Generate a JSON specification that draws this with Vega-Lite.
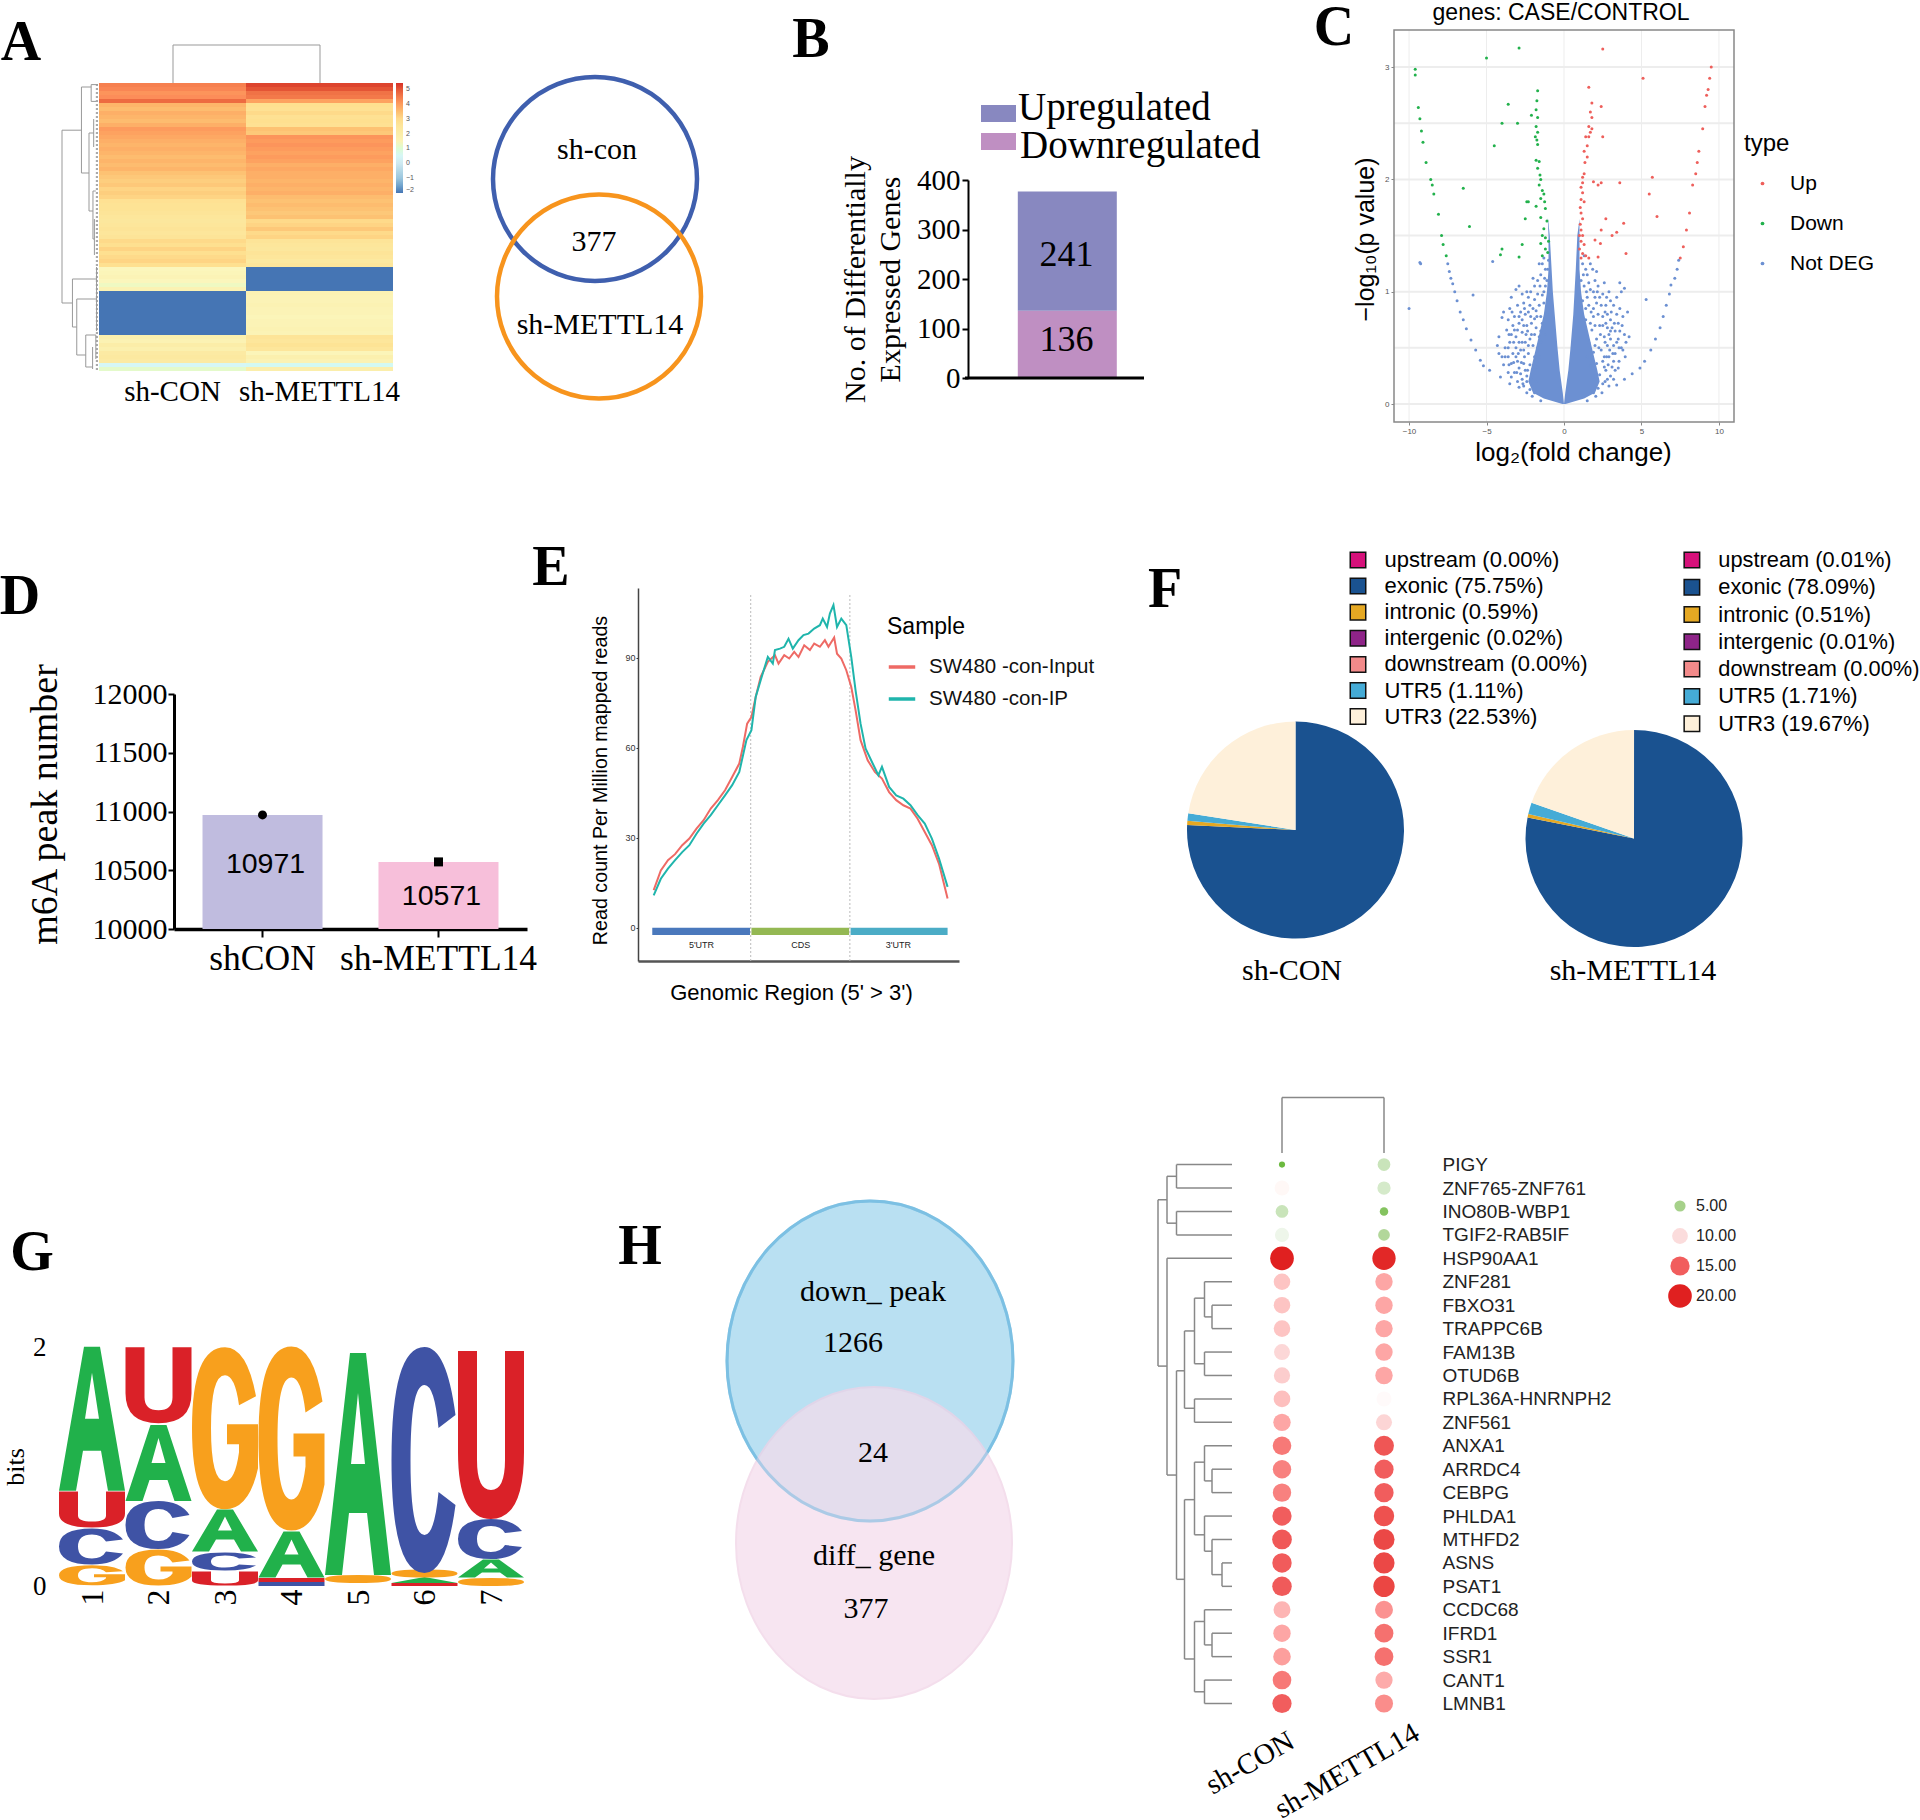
{"$schema":"https://vega.github.io/schema/vega-lite/v6.json","width":1920,"height":1820,"padding":0,"autosize":{"type":"none"},"background":"white",
"config":{"view":{"stroke":null},"axis":{"grid":false,"titleFontWeight":"normal","labelFontWeight":"normal","labelOverlap":false,"labelColor":"#000","titleColor":"#000","labelLimit":400},"text":{"baseline":"middle"}},
"resolve":{"scale":{"x":"independent","y":"independent","color":"independent","fill":"independent","stroke":"independent","size":"independent","shape":"independent","theta":"independent"},"axis":{"x":"independent","y":"independent"},"legend":{"color":"independent"}},
"datasets":{
"notes":[{"g":"L","t":"A","x":10.5,"y":21.5},{"g":"L","t":"B","x":405.5,"y":20},{"g":"L","t":"C","x":667,"y":14},{"g":"L","t":"D","x":10,"y":298.5},{"g":"L","t":"E","x":275.5,"y":284},{"g":"L","t":"F","x":582.5,"y":295},{"g":"L","t":"G","x":16,"y":626.5},{"g":"L","t":"H","x":320,"y":623.5},
{"g":"S","t":"sh-con","x":298.5,"y":75},{"g":"S","t":"377","x":297,"y":121},{"g":"S","t":"sh-METTL14","x":300,"y":162.5},{"g":"S","t":"down_ peak","x":436.5,"y":646},{"g":"S","t":"1266","x":426.5,"y":671.5},{"g":"S","t":"24","x":436.5,"y":726.5},{"g":"S","t":"diff_ gene","x":437,"y":778},{"g":"S","t":"377","x":433,"y":804.5},{"g":"S","t":"sh-CON","x":646,"y":485.5},{"g":"S","t":"sh-METTL14","x":816.5,"y":485.5},
{"g":"R","t":"sh-CON","x":625,"y":881.5},{"g":"R","t":"sh-METTL14","x":673.5,"y":885.5},
{"g":"T","t":"genes: CASE/CONTROL","x":780.5,"y":6.5},
{"g":"K","t":"Upregulated","x":509,"y":54},{"g":"K","t":"Downregulated","x":510,"y":73}],
"two":[{"a":0,"b":0,"c":0,"d":1},{"a":0,"b":1,"c":1,"d":1},{"a":1,"b":1,"c":0,"d":1}],
"heat":[{"s":"sh-CON","g":0,"v":4.4},{"s":"sh-CON","g":1,"v":4.3},{"s":"sh-CON","g":2,"v":4.1},{"s":"sh-CON","g":3,"v":4.2},{"s":"sh-CON","g":4,"v":4.7},{"s":"sh-CON","g":5,"v":3.6},{"s":"sh-CON","g":6,"v":3.5},{"s":"sh-CON","g":7,"v":3.7},{"s":"sh-CON","g":8,"v":3.6},{"s":"sh-CON","g":9,"v":3.5},{"s":"sh-CON","g":10,"v":3.7},{"s":"sh-CON","g":11,"v":4.0},{"s":"sh-CON","g":12,"v":3.9},{"s":"sh-CON","g":13,"v":3.8},{"s":"sh-CON","g":14,"v":3.7},{"s":"sh-CON","g":15,"v":3.6},{"s":"sh-CON","g":16,"v":3.7},{"s":"sh-CON","g":17,"v":3.6},{"s":"sh-CON","g":18,"v":3.5},{"s":"sh-CON","g":19,"v":3.6},{"s":"sh-CON","g":20,"v":3.5},{"s":"sh-CON","g":21,"v":3.6},{"s":"sh-CON","g":22,"v":3.4},{"s":"sh-CON","g":23,"v":3.3},{"s":"sh-CON","g":24,"v":3.2},{"s":"sh-CON","g":25,"v":3.3},{"s":"sh-CON","g":26,"v":3.1},{"s":"sh-CON","g":27,"v":3.2},{"s":"sh-CON","g":28,"v":3.1},{"s":"sh-CON","g":29,"v":2.8},{"s":"sh-CON","g":30,"v":2.7},{"s":"sh-CON","g":31,"v":2.7},{"s":"sh-CON","g":32,"v":2.6},{"s":"sh-CON","g":33,"v":2.5},{"s":"sh-CON","g":34,"v":2.4},{"s":"sh-CON","g":35,"v":2.5},{"s":"sh-CON","g":36,"v":2.6},{"s":"sh-CON","g":37,"v":2.5},{"s":"sh-CON","g":38,"v":2.6},{"s":"sh-CON","g":39,"v":3.0},{"s":"sh-CON","g":40,"v":2.9},{"s":"sh-CON","g":41,"v":3.1},{"s":"sh-CON","g":42,"v":2.9},{"s":"sh-CON","g":43,"v":3.0},{"s":"sh-CON","g":44,"v":3.1},{"s":"sh-CON","g":45,"v":2.9},{"s":"sh-CON","g":46,"v":1.3},{"s":"sh-CON","g":47,"v":1.4},{"s":"sh-CON","g":48,"v":1.5},{"s":"sh-CON","g":49,"v":1.3},{"s":"sh-CON","g":50,"v":1.2},{"s":"sh-CON","g":51,"v":1.6},{"s":"sh-CON","g":52,"v":-2},{"s":"sh-CON","g":53,"v":-2},{"s":"sh-CON","g":54,"v":-2},{"s":"sh-CON","g":55,"v":-2},{"s":"sh-CON","g":56,"v":-2},{"s":"sh-CON","g":57,"v":-2},{"s":"sh-CON","g":58,"v":-2},{"s":"sh-CON","g":59,"v":-2},{"s":"sh-CON","g":60,"v":-2},{"s":"sh-CON","g":61,"v":-2},{"s":"sh-CON","g":62,"v":-2},{"s":"sh-CON","g":63,"v":1.8},{"s":"sh-CON","g":64,"v":1.6},{"s":"sh-CON","g":65,"v":2.0},{"s":"sh-CON","g":66,"v":1.8},{"s":"sh-CON","g":67,"v":2.2},{"s":"sh-CON","g":68,"v":2.3},{"s":"sh-CON","g":69,"v":2.2},{"s":"sh-CON","g":70,"v":0.5},{"s":"sh-CON","g":71,"v":1.1},
{"s":"sh-METTL14","g":0,"v":5.2},{"s":"sh-METTL14","g":1,"v":5.0},{"s":"sh-METTL14","g":2,"v":4.6},{"s":"sh-METTL14","g":3,"v":4.5},{"s":"sh-METTL14","g":4,"v":3.9},{"s":"sh-METTL14","g":5,"v":2.9},{"s":"sh-METTL14","g":6,"v":2.8},{"s":"sh-METTL14","g":7,"v":3.0},{"s":"sh-METTL14","g":8,"v":2.8},{"s":"sh-METTL14","g":9,"v":2.9},{"s":"sh-METTL14","g":10,"v":2.8},{"s":"sh-METTL14","g":11,"v":3.4},{"s":"sh-METTL14","g":12,"v":3.3},{"s":"sh-METTL14","g":13,"v":4.1},{"s":"sh-METTL14","g":14,"v":4.0},{"s":"sh-METTL14","g":15,"v":4.1},{"s":"sh-METTL14","g":16,"v":4.0},{"s":"sh-METTL14","g":17,"v":3.9},{"s":"sh-METTL14","g":18,"v":4.0},{"s":"sh-METTL14","g":19,"v":3.9},{"s":"sh-METTL14","g":20,"v":3.7},{"s":"sh-METTL14","g":21,"v":3.8},{"s":"sh-METTL14","g":22,"v":3.7},{"s":"sh-METTL14","g":23,"v":3.7},{"s":"sh-METTL14","g":24,"v":3.6},{"s":"sh-METTL14","g":25,"v":3.7},{"s":"sh-METTL14","g":26,"v":3.6},{"s":"sh-METTL14","g":27,"v":3.7},{"s":"sh-METTL14","g":28,"v":3.5},{"s":"sh-METTL14","g":29,"v":3.4},{"s":"sh-METTL14","g":30,"v":3.5},{"s":"sh-METTL14","g":31,"v":3.4},{"s":"sh-METTL14","g":32,"v":3.3},{"s":"sh-METTL14","g":33,"v":3.4},{"s":"sh-METTL14","g":34,"v":3.0},{"s":"sh-METTL14","g":35,"v":3.1},{"s":"sh-METTL14","g":36,"v":3.3},{"s":"sh-METTL14","g":37,"v":3.0},{"s":"sh-METTL14","g":38,"v":3.1},{"s":"sh-METTL14","g":39,"v":2.6},{"s":"sh-METTL14","g":40,"v":2.5},{"s":"sh-METTL14","g":41,"v":2.4},{"s":"sh-METTL14","g":42,"v":2.6},{"s":"sh-METTL14","g":43,"v":2.5},{"s":"sh-METTL14","g":44,"v":2.3},{"s":"sh-METTL14","g":45,"v":2.5},{"s":"sh-METTL14","g":46,"v":-2},{"s":"sh-METTL14","g":47,"v":-2},{"s":"sh-METTL14","g":48,"v":-2},{"s":"sh-METTL14","g":49,"v":-2},{"s":"sh-METTL14","g":50,"v":-2},{"s":"sh-METTL14","g":51,"v":-2},{"s":"sh-METTL14","g":52,"v":1.6},{"s":"sh-METTL14","g":53,"v":1.5},{"s":"sh-METTL14","g":54,"v":1.5},{"s":"sh-METTL14","g":55,"v":1.6},{"s":"sh-METTL14","g":56,"v":1.5},{"s":"sh-METTL14","g":57,"v":1.5},{"s":"sh-METTL14","g":58,"v":1.4},{"s":"sh-METTL14","g":59,"v":1.5},{"s":"sh-METTL14","g":60,"v":1.5},{"s":"sh-METTL14","g":61,"v":1.6},{"s":"sh-METTL14","g":62,"v":1.5},{"s":"sh-METTL14","g":63,"v":2.6},{"s":"sh-METTL14","g":64,"v":2.5},{"s":"sh-METTL14","g":65,"v":2.7},{"s":"sh-METTL14","g":66,"v":2.5},{"s":"sh-METTL14","g":67,"v":1.4},{"s":"sh-METTL14","g":68,"v":1.8},{"s":"sh-METTL14","g":69,"v":1.6},{"s":"sh-METTL14","g":70,"v":0.6},{"s":"sh-METTL14","g":71,"v":1.9}],
"treeA":[{"a":100,"b":100,"c":11.8,"d":55},{"a":100,"b":46,"c":11.8,"d":11.8},{"a":46,"b":46,"c":1,"d":22.5},{"a":46,"b":19,"c":1,"d":1},{"a":19,"b":19,"c":0.4,"d":4.6},{"a":19,"b":0,"c":0.4,"d":0.4},{"a":19,"b":5,"c":4.6,"d":4.6},{"a":46,"b":25,"c":22.5,"d":22.5},{"a":25,"b":25,"c":12.5,"d":32},{"a":25,"b":12,"c":12.5,"d":12.5},{"a":12,"b":12,"c":9,"d":16},{"a":25,"b":14,"c":32,"d":32},{"a":14,"b":14,"c":27,"d":39},{"a":14,"b":6,"c":27,"d":27},{"a":14,"b":10,"c":39,"d":39},{"a":10,"b":10,"c":34,"d":43},{"a":100,"b":71,"c":55,"d":55},{"a":71,"b":71,"c":49,"d":61},{"a":71,"b":4,"c":49,"d":49},{"a":4,"b":4,"c":46,"d":52},{"a":71,"b":59,"c":61,"d":61},{"a":59,"b":59,"c":54,"d":68},{"a":59,"b":4,"c":54,"d":54},{"a":4,"b":4,"c":52,"d":62},{"a":59,"b":34,"c":68,"d":68},{"a":34,"b":34,"c":63,"d":71},{"a":34,"b":6,"c":63,"d":63},{"a":34,"b":15,"c":71,"d":71},{"a":15,"b":15,"c":66,"d":71.5},{"a":6,"b":6,"c":63,"d":69}],
"treeD":[{"a":148,"b":148,"c":1.5,"d":8.6},{"a":148,"b":130,"c":1.5,"d":1.5},{"a":148,"b":130,"c":8.6,"d":8.6},{"a":130,"b":130,"c":0.5,"d":2.5},{"a":130,"b":111,"c":0.5,"d":0.5},{"a":130,"b":111,"c":2.5,"d":2.5},{"a":111,"b":111,"c":0,"d":1},{"a":111,"b":0,"c":0,"d":0},{"a":111,"b":0,"c":1,"d":1},{"a":111,"b":111,"c":2,"d":3},{"a":111,"b":0,"c":2,"d":2},{"a":111,"b":0,"c":3,"d":3},{"a":130,"b":130,"c":4,"d":13.25},{"a":130,"b":0,"c":4,"d":4},{"a":130,"b":111,"c":13.25,"d":13.25},{"a":111,"b":111,"c":8.8,"d":17.7},{"a":111,"b":95,"c":8.8,"d":8.8},{"a":111,"b":95,"c":17.7,"d":17.7},{"a":95,"b":95,"c":7.1,"d":10.4},{"a":95,"b":75,"c":7.1,"d":7.1},{"a":95,"b":75,"c":10.4,"d":10.4},{"a":75,"b":75,"c":5.7,"d":8.5},{"a":75,"b":55,"c":5.7,"d":5.7},{"a":75,"b":55,"c":8.5,"d":8.5},{"a":55,"b":55,"c":5,"d":6.5},{"a":55,"b":0,"c":5,"d":5},{"a":55,"b":40,"c":6.5,"d":6.5},{"a":40,"b":40,"c":6,"d":7},{"a":40,"b":0,"c":6,"d":6},{"a":40,"b":0,"c":7,"d":7},{"a":55,"b":55,"c":8,"d":9},{"a":55,"b":0,"c":8,"d":8},{"a":55,"b":0,"c":9,"d":9},{"a":75,"b":75,"c":10,"d":11},{"a":75,"b":0,"c":10,"d":10},{"a":75,"b":0,"c":11,"d":11},{"a":95,"b":95,"c":14.3,"d":21.1},{"a":95,"b":75,"c":14.3,"d":14.3},{"a":95,"b":75,"c":21.1,"d":21.1},{"a":75,"b":75,"c":12.7,"d":15.8},{"a":75,"b":55,"c":12.7,"d":12.7},{"a":75,"b":55,"c":15.8,"d":15.8},{"a":55,"b":55,"c":12,"d":13.5},{"a":55,"b":0,"c":12,"d":12},{"a":55,"b":40,"c":13.5,"d":13.5},{"a":40,"b":40,"c":13,"d":14},{"a":40,"b":0,"c":13,"d":13},{"a":40,"b":0,"c":14,"d":14},{"a":55,"b":55,"c":15,"d":16.5},{"a":55,"b":0,"c":15,"d":15},{"a":55,"b":40,"c":16.5,"d":16.5},{"a":40,"b":40,"c":16,"d":17.5},{"a":40,"b":0,"c":16,"d":16},{"a":40,"b":20,"c":17.5,"d":17.5},{"a":20,"b":20,"c":17,"d":18},{"a":20,"b":0,"c":17,"d":17},{"a":20,"b":0,"c":18,"d":18},{"a":75,"b":75,"c":19.5,"d":22.5},{"a":75,"b":55,"c":19.5,"d":19.5},{"a":75,"b":55,"c":22.5,"d":22.5},{"a":55,"b":55,"c":19,"d":20.5},{"a":55,"b":0,"c":19,"d":19},{"a":55,"b":40,"c":20.5,"d":20.5},{"a":40,"b":40,"c":20,"d":21},{"a":40,"b":0,"c":20,"d":20},{"a":40,"b":0,"c":21,"d":21},{"a":55,"b":55,"c":22,"d":23},{"a":55,"b":0,"c":22,"d":22},{"a":55,"b":0,"c":23,"d":23}],
"dens":[{"s":"L","y":0.0,"a":0,"b":-0.1},{"s":"L","y":0.05,"a":-0.04,"b":-1.3},{"s":"L","y":0.1,"a":-0.08,"b":-2.0},{"s":"L","y":0.2,"a":-0.18,"b":-2.3},{"s":"L","y":0.3,"a":-0.28,"b":-2.15},{"s":"L","y":0.5,"a":-0.42,"b":-1.8},{"s":"L","y":0.8,"a":-0.6,"b":-1.3},{"s":"L","y":1.0,"a":-0.72,"b":-1.1},{"s":"L","y":1.2,"a":-0.8,"b":-1.0},{"s":"L","y":1.5,"a":-0.92,"b":-1.0},{"s":"L","y":1.65,"a":-1.03,"b":-1.05},
{"s":"R","y":0.0,"a":0,"b":0.1},{"s":"R","y":0.05,"a":0.04,"b":1.3},{"s":"R","y":0.1,"a":0.08,"b":2.0},{"s":"R","y":0.2,"a":0.18,"b":2.3},{"s":"R","y":0.3,"a":0.28,"b":2.15},{"s":"R","y":0.5,"a":0.42,"b":1.8},{"s":"R","y":0.8,"a":0.6,"b":1.3},{"s":"R","y":1.0,"a":0.68,"b":1.1},{"s":"R","y":1.2,"a":0.76,"b":1.0},{"s":"R","y":1.5,"a":0.86,"b":1.0},{"s":"R","y":1.65,"a":1.0,"b":1.0}],
"volcano":[{"x":-1.5,"y":1.15,"t":"Not DEG"},{"x":-1.2,"y":1.2,"t":"Not DEG"},{"x":-1.9,"y":1.05,"t":"Not DEG"},{"x":-2.9,"y":1.05,"t":"Not DEG"},{"x":-3.1,"y":1.02,"t":"Not DEG"},{"x":-2.7,"y":0.98,"t":"Not DEG"},{"x":-1.3,"y":1.0,"t":"Not DEG"},{"x":-1.7,"y":0.98,"t":"Not DEG"},{"x":-1.1,"y":1.1,"t":"Not DEG"},{"x":-2.3,"y":0.95,"t":"Not DEG"},{"x":-2.6,"y":0.9,"t":"Not DEG"},{"x":-3.0,"y":0.88,"t":"Not DEG"},{"x":-3.5,"y":0.85,"t":"Not DEG"},{"x":-3.2,"y":0.78,"t":"Not DEG"},{"x":-2.5,"y":0.8,"t":"Not DEG"},{"x":-2,"y":0.85,"t":"Not DEG"},{"x":-1.6,"y":0.88,"t":"Not DEG"},{"x":-1.3,"y":0.9,"t":"Not DEG"},{"x":-1.9,"y":0.76,"t":"Not DEG"},{"x":-3.9,"y":0.82,"t":"Not DEG"},{"x":-4,"y":0.77,"t":"Not DEG"},{"x":-3.3,"y":0.7,"t":"Not DEG"},{"x":-2.9,"y":0.72,"t":"Not DEG"},{"x":-2.4,"y":0.7,"t":"Not DEG"},{"x":-1.8,"y":0.68,"t":"Not DEG"},{"x":-1.4,"y":0.72,"t":"Not DEG"},{"x":-1.1,"y":0.8,"t":"Not DEG"},{"x":-2.7,"y":0.64,"t":"Not DEG"},{"x":-3.1,"y":0.6,"t":"Not DEG"},{"x":-2.1,"y":0.62,"t":"Not DEG"},{"x":-1.6,"y":0.6,"t":"Not DEG"},{"x":-3.5,"y":0.55,"t":"Not DEG"},{"x":-2.5,"y":0.55,"t":"Not DEG"},{"x":-2,"y":0.52,"t":"Not DEG"},{"x":-1.5,"y":0.55,"t":"Not DEG"},{"x":-3.8,"y":0.5,"t":"Not DEG"},{"x":-3.3,"y":0.45,"t":"Not DEG"},{"x":-2.8,"y":0.48,"t":"Not DEG"},{"x":-2.3,"y":0.45,"t":"Not DEG"},{"x":-1.9,"y":0.42,"t":"Not DEG"},{"x":-1.6,"y":0.42,"t":"Not DEG"},{"x":-3.8,"y":0.42,"t":"Not DEG"},{"x":-3.4,"y":0.36,"t":"Not DEG"},{"x":-3,"y":0.38,"t":"Not DEG"},{"x":-2.6,"y":0.36,"t":"Not DEG"},{"x":-2.2,"y":0.35,"t":"Not DEG"},{"x":-1.8,"y":0.33,"t":"Not DEG"},{"x":-3.2,"y":0.28,"t":"Not DEG"},{"x":-2.8,"y":0.27,"t":"Not DEG"},{"x":-2.4,"y":0.25,"t":"Not DEG"},{"x":-2.1,"y":0.22,"t":"Not DEG"},{"x":-1.8,"y":0.2,"t":"Not DEG"},{"x":-2.6,"y":0.16,"t":"Not DEG"},{"x":-2.2,"y":0.13,"t":"Not DEG"},{"x":-1.9,"y":0.1,"t":"Not DEG"},{"x":-2.4,"y":0.2,"t":"Not DEG"},{"x":-1.5,"y":0.65,"t":"Not DEG"},{"x":-1.7,"y":0.5,"t":"Not DEG"},{"x":-1.2,"y":0.62,"t":"Not DEG"},{"x":-2.2,"y":0.58,"t":"Not DEG"},{"x":-2.9,"y":0.55,"t":"Not DEG"},{"x":-2.6,"y":0.48,"t":"Not DEG"},{"x":-3.1,"y":0.5,"t":"Not DEG"},{"x":-2.1,"y":0.72,"t":"Not DEG"},{"x":-2.7,"y":0.75,"t":"Not DEG"},{"x":-1.5,"y":0.78,"t":"Not DEG"},{"x":-1.8,"y":0.83,"t":"Not DEG"},{"x":-1.2,"y":1.05,"t":"Not DEG"},{"x":-1.05,"y":1.2,"t":"Not DEG"},{"x":-1,"y":1.28,"t":"Not DEG"},{"x":-5.87,"y":0.97,"t":"Not DEG"},{"x":-10,"y":0.85,"t":"Not DEG"},{"x":-9.3,"y":1.26,"t":"Not DEG"},{"x":-9.25,"y":1.25,"t":"Not DEG"},{"x":-4.6,"y":1.27,"t":"Not DEG"},{"x":-2.4,"y":1.0,"t":"Not DEG"},{"x":-2.0,"y":1.12,"t":"Not DEG"},{"x":-3.4,"y":0.95,"t":"Not DEG"},{"x":-3.7,"y":0.66,"t":"Not DEG"},{"x":-4.2,"y":0.6,"t":"Not DEG"},{"x":-4.3,"y":0.52,"t":"Not DEG"},{"x":-2.3,"y":0.82,"t":"Not DEG"},{"x":-2.8,"y":0.82,"t":"Not DEG"},{"x":-3.6,"y":0.75,"t":"Not DEG"},{"x":-3.0,"y":0.66,"t":"Not DEG"},{"x":-2.45,"y":0.62,"t":"Not DEG"},{"x":-3.4,"y":0.62,"t":"Not DEG"},{"x":-2.95,"y":0.45,"t":"Not DEG"},{"x":-3.6,"y":0.28,"t":"Not DEG"},{"x":-3.0,"y":0.2,"t":"Not DEG"},{"x":-2.7,"y":0.22,"t":"Not DEG"},{"x":-3.9,"y":0.35,"t":"Not DEG"},{"x":-2.2,"y":0.88,"t":"Not DEG"},{"x":-1.7,"y":1.1,"t":"Not DEG"},{"x":-1.4,"y":1.25,"t":"Not DEG"},{"x":-4.2,"y":0.45,"t":"Not DEG"},{"x":-3.6,"y":0.42,"t":"Not DEG"},{"x":-2.35,"y":0.3,"t":"Not DEG"},{"x":-2.9,"y":0.32,"t":"Not DEG"},{"x":-1.3,"y":1.3,"t":"Not DEG"},{"x":-1.6,"y":1.25,"t":"Not DEG"},{"x":-1.25,"y":1.12,"t":"Not DEG"},{"x":-1.55,"y":1.05,"t":"Not DEG"},{"x":-1.4,"y":0.97,"t":"Not DEG"},{"x":-1.9,"y":0.93,"t":"Not DEG"},{"x":-2.15,"y":1.0,"t":"Not DEG"},{"x":-2.55,"y":0.85,"t":"Not DEG"},{"x":-1.75,"y":0.78,"t":"Not DEG"},{"x":-2.15,"y":0.78,"t":"Not DEG"},{"x":-2.9,"y":0.78,"t":"Not DEG"},{"x":-3.35,"y":0.82,"t":"Not DEG"},{"x":-1.9,"y":0.62,"t":"Not DEG"},{"x":-2.35,"y":0.65,"t":"Not DEG"},{"x":-2.6,"y":0.7,"t":"Not DEG"},{"x":-3.2,"y":0.66,"t":"Not DEG"},{"x":-3.55,"y":0.62,"t":"Not DEG"},{"x":-2.3,"y":0.52,"t":"Not DEG"},{"x":-2.7,"y":0.55,"t":"Not DEG"},{"x":-3.25,"y":0.55,"t":"Not DEG"},{"x":-3.6,"y":0.5,"t":"Not DEG"},{"x":-4.0,"y":0.42,"t":"Not DEG"},{"x":-2.55,"y":0.42,"t":"Not DEG"},{"x":-3.1,"y":0.42,"t":"Not DEG"},{"x":-3.55,"y":0.35,"t":"Not DEG"},{"x":-2.75,"y":0.37,"t":"Not DEG"},{"x":-3.25,"y":0.37,"t":"Not DEG"},{"x":-2.5,"y":0.3,"t":"Not DEG"},{"x":-3.05,"y":0.28,"t":"Not DEG"},{"x":-3.4,"y":0.24,"t":"Not DEG"},{"x":-2.65,"y":0.18,"t":"Not DEG"},{"x":-2.9,"y":0.15,"t":"Not DEG"},{"x":-2.4,"y":0.1,"t":"Not DEG"},{"x":-2.05,"y":0.07,"t":"Not DEG"},{"x":-1.5,"y":0.03,"t":"Not DEG"},
{"x":-7.5,"y":1.25,"t":"Not DEG"},{"x":-7.4,"y":1.18,"t":"Not DEG"},{"x":-7.3,"y":1.12,"t":"Not DEG"},{"x":-7.18,"y":1.07,"t":"Not DEG"},{"x":-7.05,"y":1.0,"t":"Not DEG"},{"x":-6.9,"y":0.92,"t":"Not DEG"},{"x":-6.7,"y":0.82,"t":"Not DEG"},{"x":-6.5,"y":0.75,"t":"Not DEG"},{"x":-6.3,"y":0.67,"t":"Not DEG"},{"x":-6.0,"y":0.57,"t":"Not DEG"},{"x":-5.7,"y":0.48,"t":"Not DEG"},{"x":-5.4,"y":0.39,"t":"Not DEG"},{"x":-5.2,"y":0.34,"t":"Not DEG"},{"x":-4.8,"y":0.3,"t":"Not DEG"},{"x":-4.1,"y":0.24,"t":"Not DEG"},{"x":-3.5,"y":0.18,"t":"Not DEG"},{"x":7.4,"y":1.28,"t":"Not DEG"},{"x":7.3,"y":1.2,"t":"Not DEG"},{"x":7.15,"y":1.12,"t":"Not DEG"},{"x":6.9,"y":1.06,"t":"Not DEG"},{"x":6.8,"y":0.98,"t":"Not DEG"},{"x":6.6,"y":0.88,"t":"Not DEG"},{"x":6.4,"y":0.78,"t":"Not DEG"},{"x":6.2,"y":0.68,"t":"Not DEG"},{"x":5.9,"y":0.58,"t":"Not DEG"},{"x":5.6,"y":0.48,"t":"Not DEG"},{"x":5.2,"y":0.38,"t":"Not DEG"},{"x":4.9,"y":0.32,"t":"Not DEG"},{"x":4.4,"y":0.27,"t":"Not DEG"},{"x":3.9,"y":0.22,"t":"Not DEG"},{"x":3.4,"y":0.17,"t":"Not DEG"},
{"x":1.2,"y":1.25,"t":"Not DEG"},{"x":1.5,"y":1.15,"t":"Not DEG"},{"x":2.1,"y":1.18,"t":"Not DEG"},{"x":1.1,"y":1.1,"t":"Not DEG"},{"x":1.3,"y":1.05,"t":"Not DEG"},{"x":1.7,"y":1.02,"t":"Not DEG"},{"x":2.2,"y":1.05,"t":"Not DEG"},{"x":2.5,"y":0.98,"t":"Not DEG"},{"x":3,"y":0.92,"t":"Not DEG"},{"x":3.6,"y":1.08,"t":"Not DEG"},{"x":3.9,"y":1.03,"t":"Not DEG"},{"x":3.7,"y":1,"t":"Not DEG"},{"x":3.2,"y":0.88,"t":"Not DEG"},{"x":4.1,"y":0.82,"t":"Not DEG"},{"x":3.8,"y":0.78,"t":"Not DEG"},{"x":2.7,"y":0.88,"t":"Not DEG"},{"x":2.1,"y":0.9,"t":"Not DEG"},{"x":1.6,"y":0.88,"t":"Not DEG"},{"x":1.2,"y":0.92,"t":"Not DEG"},{"x":1.9,"y":0.78,"t":"Not DEG"},{"x":1.4,"y":0.75,"t":"Not DEG"},{"x":2.5,"y":0.78,"t":"Not DEG"},{"x":3,"y":0.75,"t":"Not DEG"},{"x":3.5,"y":0.72,"t":"Not DEG"},{"x":3.3,"y":0.65,"t":"Not DEG"},{"x":2.8,"y":0.68,"t":"Not DEG"},{"x":2.3,"y":0.7,"t":"Not DEG"},{"x":1.8,"y":0.66,"t":"Not DEG"},{"x":1.3,"y":0.65,"t":"Not DEG"},{"x":2.6,"y":0.6,"t":"Not DEG"},{"x":2.1,"y":0.58,"t":"Not DEG"},{"x":1.6,"y":0.55,"t":"Not DEG"},{"x":3,"y":0.58,"t":"Not DEG"},{"x":3.4,"y":0.55,"t":"Not DEG"},{"x":2.8,"y":0.52,"t":"Not DEG"},{"x":2.4,"y":0.48,"t":"Not DEG"},{"x":1.9,"y":0.46,"t":"Not DEG"},{"x":1.5,"y":0.42,"t":"Not DEG"},{"x":3.8,"y":0.48,"t":"Not DEG"},{"x":3.3,"y":0.45,"t":"Not DEG"},{"x":2.9,"y":0.42,"t":"Not DEG"},{"x":2.5,"y":0.38,"t":"Not DEG"},{"x":2.1,"y":0.36,"t":"Not DEG"},{"x":1.7,"y":0.34,"t":"Not DEG"},{"x":3.1,"y":0.33,"t":"Not DEG"},{"x":2.7,"y":0.3,"t":"Not DEG"},{"x":2.3,"y":0.26,"t":"Not DEG"},{"x":1.9,"y":0.24,"t":"Not DEG"},{"x":2.5,"y":0.18,"t":"Not DEG"},{"x":2.2,"y":0.14,"t":"Not DEG"},{"x":1.9,"y":0.1,"t":"Not DEG"},{"x":2.8,"y":0.22,"t":"Not DEG"},{"x":2,"y":0.52,"t":"Not DEG"},{"x":1.4,"y":0.85,"t":"Not DEG"},{"x":2.3,"y":0.95,"t":"Not DEG"},{"x":1.9,"y":1.0,"t":"Not DEG"},{"x":1.5,"y":0.95,"t":"Not DEG"},{"x":2.5,"y":0.7,"t":"Not DEG"},{"x":3.6,"y":0.65,"t":"Not DEG"},{"x":2.2,"y":0.8,"t":"Not DEG"},{"x":1.7,"y":0.72,"t":"Not DEG"},{"x":5.3,"y":0.93,"t":"Not DEG"},{"x":2.0,"y":1.1,"t":"Not DEG"},{"x":2.6,"y":1.08,"t":"Not DEG"},{"x":2.9,"y":1.0,"t":"Not DEG"},{"x":3.4,"y":0.95,"t":"Not DEG"},{"x":3.4,"y":0.8,"t":"Not DEG"},{"x":2.8,"y":0.8,"t":"Not DEG"},{"x":2.4,"y":0.88,"t":"Not DEG"},{"x":4.2,"y":0.6,"t":"Not DEG"},{"x":4.0,"y":0.55,"t":"Not DEG"},{"x":3.9,"y":0.62,"t":"Not DEG"},{"x":3.1,"y":0.68,"t":"Not DEG"},{"x":2.7,"y":0.72,"t":"Not DEG"},{"x":2.9,"y":0.62,"t":"Not DEG"},{"x":3.7,"y":0.5,"t":"Not DEG"},{"x":3.55,"y":0.38,"t":"Not DEG"},{"x":3.3,"y":0.3,"t":"Not DEG"},{"x":3.0,"y":0.25,"t":"Not DEG"},{"x":2.6,"y":0.42,"t":"Not DEG"},{"x":3.5,"y":0.58,"t":"Not DEG"},{"x":1.9,"y":0.85,"t":"Not DEG"},{"x":1.4,"y":1.2,"t":"Not DEG"},{"x":1.7,"y":1.25,"t":"Not DEG"},{"x":2.95,"y":0.48,"t":"Not DEG"},{"x":3.2,"y":0.38,"t":"Not DEG"},{"x":1.3,"y":1.32,"t":"Not DEG"},{"x":1.85,"y":1.2,"t":"Not DEG"},{"x":1.25,"y":1.15,"t":"Not DEG"},{"x":1.6,"y":1.08,"t":"Not DEG"},{"x":1.45,"y":1.0,"t":"Not DEG"},{"x":2.0,"y":0.95,"t":"Not DEG"},{"x":2.75,"y":0.95,"t":"Not DEG"},{"x":2.15,"y":1.0,"t":"Not DEG"},{"x":1.75,"y":0.82,"t":"Not DEG"},{"x":2.65,"y":0.82,"t":"Not DEG"},{"x":3.05,"y":0.82,"t":"Not DEG"},{"x":3.6,"y":0.85,"t":"Not DEG"},{"x":2.0,"y":0.7,"t":"Not DEG"},{"x":2.35,"y":0.62,"t":"Not DEG"},{"x":3.0,"y":0.65,"t":"Not DEG"},{"x":3.25,"y":0.72,"t":"Not DEG"},{"x":3.75,"y":0.7,"t":"Not DEG"},{"x":2.25,"y":0.5,"t":"Not DEG"},{"x":2.65,"y":0.55,"t":"Not DEG"},{"x":3.2,"y":0.52,"t":"Not DEG"},{"x":3.55,"y":0.5,"t":"Not DEG"},{"x":3.95,"y":0.42,"t":"Not DEG"},{"x":2.75,"y":0.42,"t":"Not DEG"},{"x":3.15,"y":0.45,"t":"Not DEG"},{"x":3.5,"y":0.32,"t":"Not DEG"},{"x":2.85,"y":0.35,"t":"Not DEG"},{"x":2.6,"y":0.33,"t":"Not DEG"},{"x":3.2,"y":0.22,"t":"Not DEG"},{"x":2.65,"y":0.2,"t":"Not DEG"},{"x":2.9,"y":0.16,"t":"Not DEG"},{"x":2.45,"y":0.1,"t":"Not DEG"},{"x":2.05,"y":0.07,"t":"Not DEG"},{"x":1.5,"y":0.03,"t":"Not DEG"},
{"x":9.5,"y":3.0,"t":"Up"},{"x":9.4,"y":2.9,"t":"Up"},{"x":9.3,"y":2.8,"t":"Up"},{"x":9.2,"y":2.75,"t":"Up"},{"x":9.1,"y":2.65,"t":"Up"},{"x":8.95,"y":2.45,"t":"Up"},{"x":8.7,"y":2.25,"t":"Up"},{"x":8.6,"y":2.15,"t":"Up"},{"x":8.5,"y":2.05,"t":"Up"},{"x":8.3,"y":1.95,"t":"Up"},{"x":8.1,"y":1.7,"t":"Up"},{"x":7.9,"y":1.55,"t":"Up"},{"x":7.7,"y":1.4,"t":"Up"},{"x":7.5,"y":1.3,"t":"Up"},{"x":2.5,"y":3.16,"t":"Up"},{"x":5.1,"y":2.9,"t":"Up"},{"x":1.6,"y":2.82,"t":"Up"},{"x":1.8,"y":2.68,"t":"Up"},{"x":1.7,"y":2.6,"t":"Up"},{"x":2.4,"y":2.65,"t":"Up"},{"x":2.5,"y":2.38,"t":"Up"},{"x":1.8,"y":2.55,"t":"Up"},{"x":1.8,"y":2.45,"t":"Up"},{"x":1.7,"y":2.42,"t":"Up"},{"x":1.6,"y":2.47,"t":"Up"},{"x":1.6,"y":2.38,"t":"Up"},{"x":1.4,"y":2.38,"t":"Up"},{"x":1.5,"y":2.3,"t":"Up"},{"x":1.3,"y":2.25,"t":"Up"},{"x":1.5,"y":2.2,"t":"Up"},{"x":1.35,"y":2.15,"t":"Up"},{"x":1.3,"y":2.05,"t":"Up"},{"x":1.2,"y":2.02,"t":"Up"},{"x":1.2,"y":1.97,"t":"Up"},{"x":1.1,"y":1.93,"t":"Up"},{"x":1.2,"y":1.88,"t":"Up"},{"x":1.1,"y":1.82,"t":"Up"},{"x":1.3,"y":1.8,"t":"Up"},{"x":1.05,"y":1.75,"t":"Up"},{"x":1.1,"y":1.7,"t":"Up"},{"x":1.2,"y":1.65,"t":"Up"},{"x":1.05,"y":1.6,"t":"Up"},{"x":1.1,"y":1.55,"t":"Up"},{"x":1.0,"y":1.5,"t":"Up"},{"x":1.2,"y":1.5,"t":"Up"},{"x":1.1,"y":1.45,"t":"Up"},{"x":1.3,"y":1.42,"t":"Up"},{"x":1.0,"y":1.38,"t":"Up"},{"x":1.2,"y":1.34,"t":"Up"},{"x":1.4,"y":1.32,"t":"Up"},{"x":1.1,"y":1.3,"t":"Up"},{"x":1.9,"y":1.98,"t":"Up"},{"x":2.2,"y":1.95,"t":"Up"},{"x":2.4,"y":1.97,"t":"Up"},{"x":3.6,"y":1.97,"t":"Up"},{"x":5.7,"y":2.02,"t":"Up"},{"x":5.5,"y":1.87,"t":"Up"},{"x":6,"y":1.67,"t":"Up"},{"x":3.85,"y":1.61,"t":"Up"},{"x":2.7,"y":1.65,"t":"Up"},{"x":2.4,"y":1.55,"t":"Up"},{"x":3.4,"y":1.53,"t":"Up"},{"x":2,"y":1.46,"t":"Up"},{"x":3.1,"y":1.5,"t":"Up"},{"x":2.35,"y":1.43,"t":"Up"},{"x":4,"y":1.34,"t":"Up"},{"x":2.2,"y":1.31,"t":"Up"},{"x":1.6,"y":1.3,"t":"Up"},
{"x":-9.6,"y":2.98,"t":"Down"},{"x":-9.6,"y":2.93,"t":"Down"},{"x":-9.4,"y":2.64,"t":"Down"},{"x":-9.3,"y":2.54,"t":"Down"},{"x":-9.2,"y":2.43,"t":"Down"},{"x":-9.1,"y":2.33,"t":"Down"},{"x":-8.9,"y":2.15,"t":"Down"},{"x":-8.6,"y":2.0,"t":"Down"},{"x":-8.5,"y":1.95,"t":"Down"},{"x":-8.4,"y":1.87,"t":"Down"},{"x":-8.1,"y":1.69,"t":"Down"},{"x":-7.9,"y":1.5,"t":"Down"},{"x":-7.8,"y":1.42,"t":"Down"},{"x":-7.6,"y":1.32,"t":"Down"},{"x":-5,"y":3.08,"t":"Down"},{"x":-2.9,"y":3.17,"t":"Down"},{"x":-3.6,"y":2.67,"t":"Down"},{"x":-4.0,"y":2.5,"t":"Down"},{"x":-3.0,"y":2.5,"t":"Down"},{"x":-2.1,"y":2.57,"t":"Down"},{"x":-4.5,"y":2.3,"t":"Down"},{"x":-6.5,"y":1.92,"t":"Down"},{"x":-6.1,"y":1.58,"t":"Down"},{"x":-4,"y":1.38,"t":"Down"},{"x":-4.1,"y":1.33,"t":"Down"},{"x":-1.7,"y":2.79,"t":"Down"},{"x":-1.75,"y":2.7,"t":"Down"},{"x":-1.8,"y":2.62,"t":"Down"},{"x":-1.7,"y":2.55,"t":"Down"},{"x":-1.8,"y":2.47,"t":"Down"},{"x":-1.7,"y":2.42,"t":"Down"},{"x":-1.85,"y":2.38,"t":"Down"},{"x":-1.75,"y":2.35,"t":"Down"},{"x":-1.7,"y":2.31,"t":"Down"},{"x":-1.8,"y":2.17,"t":"Down"},{"x":-1.6,"y":2.16,"t":"Down"},{"x":-1.7,"y":2.1,"t":"Down"},{"x":-1.55,"y":2.04,"t":"Down"},{"x":-1.5,"y":2,"t":"Down"},{"x":-1.6,"y":1.95,"t":"Down"},{"x":-1.4,"y":1.9,"t":"Down"},{"x":-1.3,"y":1.87,"t":"Down"},{"x":-1.5,"y":1.83,"t":"Down"},{"x":-1.25,"y":1.8,"t":"Down"},{"x":-2.4,"y":1.8,"t":"Down"},{"x":-2.3,"y":1.8,"t":"Down"},{"x":-1.8,"y":1.76,"t":"Down"},{"x":-1.2,"y":1.74,"t":"Down"},{"x":-2.5,"y":1.65,"t":"Down"},{"x":-1.5,"y":1.66,"t":"Down"},{"x":-1.1,"y":1.63,"t":"Down"},{"x":-1.3,"y":1.56,"t":"Down"},{"x":-1.4,"y":1.5,"t":"Down"},{"x":-1.2,"y":1.48,"t":"Down"},{"x":-1.0,"y":1.45,"t":"Down"},{"x":-1.5,"y":1.43,"t":"Down"},{"x":-1.2,"y":1.38,"t":"Down"},{"x":-1.4,"y":1.32,"t":"Down"},{"x":-2.9,"y":1.31,"t":"Down"},{"x":-1.05,"y":1.35,"t":"Down"},{"x":-2.7,"y":1.42,"t":"Down"}],
"reads":[{"p":2,"v":12.6,"s":"SW480 -con-Input"},{"p":12,"v":19.2,"s":"SW480 -con-Input"},{"p":22,"v":22.6,"s":"SW480 -con-Input"},{"p":32,"v":24.6,"s":"SW480 -con-Input"},{"p":42,"v":27.6,"s":"SW480 -con-Input"},{"p":52,"v":29.8,"s":"SW480 -con-Input"},{"p":62,"v":33.1,"s":"SW480 -con-Input"},{"p":72,"v":35.9,"s":"SW480 -con-Input"},{"p":82,"v":39.8,"s":"SW480 -con-Input"},{"p":92,"v":42.6,"s":"SW480 -con-Input"},{"p":102,"v":45.9,"s":"SW480 -con-Input"},{"p":112,"v":50.3,"s":"SW480 -con-Input"},{"p":122,"v":54.8,"s":"SW480 -con-Input"},{"p":127,"v":60.3,"s":"SW480 -con-Input"},{"p":133,"v":68.1,"s":"SW480 -con-Input"},{"p":139,"v":70.3,"s":"SW480 -con-Input"},{"p":145,"v":77,"s":"SW480 -con-Input"},{"p":152,"v":83.7,"s":"SW480 -con-Input"},{"p":162,"v":88.7,"s":"SW480 -con-Input"},{"p":172,"v":90.9,"s":"SW480 -con-Input"},{"p":177,"v":88.1,"s":"SW480 -con-Input"},{"p":185,"v":90.9,"s":"SW480 -con-Input"},{"p":192,"v":89.8,"s":"SW480 -con-Input"},{"p":199,"v":92,"s":"SW480 -con-Input"},{"p":205,"v":90.3,"s":"SW480 -con-Input"},{"p":213,"v":94.2,"s":"SW480 -con-Input"},{"p":221,"v":92.6,"s":"SW480 -con-Input"},{"p":227,"v":94.8,"s":"SW480 -con-Input"},{"p":235,"v":93.7,"s":"SW480 -con-Input"},{"p":242,"v":95.9,"s":"SW480 -con-Input"},{"p":247,"v":93.7,"s":"SW480 -con-Input"},{"p":255,"v":96.8,"s":"SW480 -con-Input"},{"p":259,"v":91.4,"s":"SW480 -con-Input"},{"p":265,"v":89.8,"s":"SW480 -con-Input"},{"p":272,"v":85.9,"s":"SW480 -con-Input"},{"p":279,"v":80.3,"s":"SW480 -con-Input"},{"p":285,"v":72.6,"s":"SW480 -con-Input"},{"p":292,"v":62.6,"s":"SW480 -con-Input"},{"p":302,"v":55.9,"s":"SW480 -con-Input"},{"p":312,"v":52,"s":"SW480 -con-Input"},{"p":322,"v":49.8,"s":"SW480 -con-Input"},{"p":332,"v":45.3,"s":"SW480 -con-Input"},{"p":342,"v":42.6,"s":"SW480 -con-Input"},{"p":352,"v":40.9,"s":"SW480 -con-Input"},{"p":362,"v":39.8,"s":"SW480 -con-Input"},{"p":372,"v":36.4,"s":"SW480 -con-Input"},{"p":382,"v":32,"s":"SW480 -con-Input"},{"p":392,"v":27.6,"s":"SW480 -con-Input"},{"p":402,"v":21.4,"s":"SW480 -con-Input"},{"p":414,"v":9.8,"s":"SW480 -con-Input"},
{"p":2,"v":10.9,"s":"SW480 -con-IP"},{"p":12,"v":16.4,"s":"SW480 -con-IP"},{"p":22,"v":19.8,"s":"SW480 -con-IP"},{"p":32,"v":22.6,"s":"SW480 -con-IP"},{"p":42,"v":25.3,"s":"SW480 -con-IP"},{"p":52,"v":27.6,"s":"SW480 -con-IP"},{"p":62,"v":31.4,"s":"SW480 -con-IP"},{"p":72,"v":34.8,"s":"SW480 -con-IP"},{"p":82,"v":37.6,"s":"SW480 -con-IP"},{"p":92,"v":40.9,"s":"SW480 -con-IP"},{"p":102,"v":44.2,"s":"SW480 -con-IP"},{"p":112,"v":47.6,"s":"SW480 -con-IP"},{"p":122,"v":52,"s":"SW480 -con-IP"},{"p":132,"v":62.6,"s":"SW480 -con-IP"},{"p":139,"v":65.9,"s":"SW480 -con-IP"},{"p":145,"v":77,"s":"SW480 -con-IP"},{"p":152,"v":82.6,"s":"SW480 -con-IP"},{"p":162,"v":90.3,"s":"SW480 -con-IP"},{"p":169,"v":88.1,"s":"SW480 -con-IP"},{"p":172,"v":92.6,"s":"SW480 -con-IP"},{"p":179,"v":93.1,"s":"SW480 -con-IP"},{"p":185,"v":93.7,"s":"SW480 -con-IP"},{"p":191,"v":96.4,"s":"SW480 -con-IP"},{"p":197,"v":93.1,"s":"SW480 -con-IP"},{"p":205,"v":95.9,"s":"SW480 -con-IP"},{"p":212,"v":97.6,"s":"SW480 -con-IP"},{"p":219,"v":98.1,"s":"SW480 -con-IP"},{"p":227,"v":99.8,"s":"SW480 -con-IP"},{"p":235,"v":100.9,"s":"SW480 -con-IP"},{"p":239,"v":103.1,"s":"SW480 -con-IP"},{"p":245,"v":100.3,"s":"SW480 -con-IP"},{"p":249,"v":104.8,"s":"SW480 -con-IP"},{"p":254,"v":107.6,"s":"SW480 -con-IP"},{"p":259,"v":100.3,"s":"SW480 -con-IP"},{"p":265,"v":103.1,"s":"SW480 -con-IP"},{"p":272,"v":100.9,"s":"SW480 -con-IP"},{"p":279,"v":90.3,"s":"SW480 -con-IP"},{"p":285,"v":79.2,"s":"SW480 -con-IP"},{"p":292,"v":68.1,"s":"SW480 -con-IP"},{"p":299,"v":59.8,"s":"SW480 -con-IP"},{"p":309,"v":54.8,"s":"SW480 -con-IP"},{"p":317,"v":50.9,"s":"SW480 -con-IP"},{"p":322,"v":53.7,"s":"SW480 -con-IP"},{"p":332,"v":47,"s":"SW480 -con-IP"},{"p":342,"v":44.2,"s":"SW480 -con-IP"},{"p":352,"v":43.1,"s":"SW480 -con-IP"},{"p":362,"v":40.9,"s":"SW480 -con-IP"},{"p":372,"v":37.6,"s":"SW480 -con-IP"},{"p":382,"v":34.8,"s":"SW480 -con-IP"},{"p":392,"v":29.8,"s":"SW480 -con-IP"},{"p":402,"v":23.1,"s":"SW480 -con-IP"},{"p":414,"v":13.7,"s":"SW480 -con-IP"}],
"logo":[{"pos":"1","base":"G","mid":0.09,"glyph":"G21"},{"pos":"1","base":"C","mid":0.33,"glyph":"C37"},{"pos":"1","base":"U","mid":0.64,"glyph":"U37"},{"pos":"1","base":"A","mid":1.40,"glyph":"A145"},{"pos":"2","base":"G","mid":0.155,"glyph":"G37"},{"pos":"2","base":"C","mid":0.51,"glyph":"C48"},{"pos":"2","base":"A","mid":1.03,"glyph":"A77"},{"pos":"2","base":"U","mid":1.68,"glyph":"U77"},{"pos":"3","base":"U","mid":0.063,"glyph":"U15"},{"pos":"3","base":"C","mid":0.205,"glyph":"C19"},{"pos":"3","base":"A","mid":0.464,"glyph":"A43"},{"pos":"3","base":"G","mid":1.32,"glyph":"G162"},{"pos":"4","base":"C","mid":0.017,"glyph":"B4"},{"pos":"4","base":"U","mid":0.05,"glyph":"B4"},{"pos":"4","base":"A","mid":0.264,"glyph":"A47"},{"pos":"4","base":"G","mid":1.234,"glyph":"G185"},{"pos":"5","base":"G","mid":0.058,"glyph":"E8"},{"pos":"5","base":"A","mid":1.02,"glyph":"A222"},{"pos":"6","base":"U","mid":0.013,"glyph":"B3"},{"pos":"6","base":"A","mid":0.05,"glyph":"A6"},{"pos":"6","base":"G","mid":0.105,"glyph":"E8"},{"pos":"6","base":"C","mid":1.054,"glyph":"C227"},{"pos":"7","base":"G","mid":0.033,"glyph":"E8"},{"pos":"7","base":"A","mid":0.146,"glyph":"A19"},{"pos":"7","base":"C","mid":0.393,"glyph":"C40"},{"pos":"7","base":"U","mid":1.264,"glyph":"U168"}],
"pie1":[{"i":0,"k":"upstream (0.00%)","p":0},{"i":1,"k":"exonic (75.75%)","p":75.75},{"i":2,"k":"intronic (0.59%)","p":0.59},{"i":3,"k":"intergenic (0.02%)","p":0.02},{"i":4,"k":"downstream (0.00%)","p":0},{"i":5,"k":"UTR5 (1.11%)","p":1.11},{"i":6,"k":"UTR3 (22.53%)","p":22.53}],
"pie2":[{"i":0,"k":"upstream (0.01%)","p":0.01},{"i":1,"k":"exonic (78.09%)","p":78.09},{"i":2,"k":"intronic (0.51%)","p":0.51},{"i":3,"k":"intergenic (0.01%)","p":0.01},{"i":4,"k":"downstream (0.00%)","p":0},{"i":5,"k":"UTR5 (1.71%)","p":1.71},{"i":6,"k":"UTR3 (19.67%)","p":19.67}],
"dots":[{"s":"sh-CON","g":"PIGY","v":2.5},{"s":"sh-METTL14","g":"PIGY","v":6.5},{"s":"sh-CON","g":"ZNF765-ZNF761","v":8.8},{"s":"sh-METTL14","g":"ZNF765-ZNF761","v":7},{"s":"sh-CON","g":"INO80B-WBP1","v":6.5},{"s":"sh-METTL14","g":"INO80B-WBP1","v":3.5},{"s":"sh-CON","g":"TGIF2-RAB5IF","v":8},{"s":"sh-METTL14","g":"TGIF2-RAB5IF","v":5.5},{"s":"sh-CON","g":"HSP90AA1","v":20},{"s":"sh-METTL14","g":"HSP90AA1","v":19.5},{"s":"sh-CON","g":"ZNF281","v":11},{"s":"sh-METTL14","g":"ZNF281","v":12.2},{"s":"sh-CON","g":"FBXO31","v":11},{"s":"sh-METTL14","g":"FBXO31","v":12.2},{"s":"sh-CON","g":"TRAPPC6B","v":11},{"s":"sh-METTL14","g":"TRAPPC6B","v":12.2},{"s":"sh-CON","g":"FAM13B","v":10.2},{"s":"sh-METTL14","g":"FAM13B","v":12.2},{"s":"sh-CON","g":"OTUD6B","v":10.6},{"s":"sh-METTL14","g":"OTUD6B","v":12.2},{"s":"sh-CON","g":"RPL36A-HNRNPH2","v":11.2},{"s":"sh-METTL14","g":"RPL36A-HNRNPH2","v":9},{"s":"sh-CON","g":"ZNF561","v":12.2},{"s":"sh-METTL14","g":"ZNF561","v":10.3},{"s":"sh-CON","g":"ANXA1","v":14},{"s":"sh-METTL14","g":"ANXA1","v":15.7},{"s":"sh-CON","g":"ARRDC4","v":13.7},{"s":"sh-METTL14","g":"ARRDC4","v":15},{"s":"sh-CON","g":"CEBPG","v":13.7},{"s":"sh-METTL14","g":"CEBPG","v":15},{"s":"sh-CON","g":"PHLDA1","v":15},{"s":"sh-METTL14","g":"PHLDA1","v":16.2},{"s":"sh-CON","g":"MTHFD2","v":15.5},{"s":"sh-METTL14","g":"MTHFD2","v":17},{"s":"sh-CON","g":"ASNS","v":15.2},{"s":"sh-METTL14","g":"ASNS","v":17},{"s":"sh-CON","g":"PSAT1","v":15.3},{"s":"sh-METTL14","g":"PSAT1","v":17.2},{"s":"sh-CON","g":"CCDC68","v":11.6},{"s":"sh-METTL14","g":"CCDC68","v":13},{"s":"sh-CON","g":"IFRD1","v":12.2},{"s":"sh-METTL14","g":"IFRD1","v":14.3},{"s":"sh-CON","g":"SSR1","v":12.5},{"s":"sh-METTL14","g":"SSR1","v":14.3},{"s":"sh-CON","g":"CANT1","v":14},{"s":"sh-METTL14","g":"CANT1","v":12},{"s":"sh-CON","g":"LMNB1","v":15},{"s":"sh-METTL14","g":"LMNB1","v":13.2}]
},
"layer":[
{"data":{"name":"heat"},"mark":{"type":"rect"},"encoding":{"x":{"field":"s","type":"nominal","scale":{"domain":["sh-CON","sh-METTL14"],"range":[99,393],"padding":0},"axis":{"orient":"bottom","offset":-1449,"title":null,"labelAngle":0,"domain":false,"ticks":false,"labelFont":"Liberation Serif","labelFontSize":29,"labelPadding":6}},"y":{"field":"g","type":"ordinal","scale":{"range":[83,371],"padding":0},"axis":null},"color":{"field":"v","type":"quantitative","scale":{"domain":[-2,-1.2,0.3,1.3,2.9,4.2,5.4],"range":["#4575B4","#91BFDB","#E0F3F8","#FBF6BC","#FEE090","#FC8D59","#D73027"]},"legend":{"orient":"none","legendX":396,"legendY":83,"type":"gradient","direction":"vertical","title":null,"gradientLength":110,"gradientThickness":7,"gradientStrokeWidth":0,"values":[-2,-1,0,1,2,3,4,5],"labelFontSize":7,"labelColor":"#555","labelOffset":3,"labelOverlap":false}}}},
{"data":{"name":"heat"},"transform":[{"filter":"datum.s=='sh-CON'"}],"mark":{"type":"rule","stroke":"#555","strokeWidth":1},"encoding":{"y":{"field":"g","type":"ordinal","scale":{"range":[83,371],"padding":0},"axis":null},"x":{"datum":0,"scale":{"domain":[0,100],"range":[98,62],"nice":false},"axis":null},"x2":{"datum":6}}},
{"data":{"name":"treeA"},"mark":{"type":"rule","stroke":"#999","strokeWidth":1},"encoding":{"x":{"field":"a","type":"quantitative","scale":{"domain":[0,100],"range":[98,62],"nice":false},"axis":null},"x2":{"field":"b"},"y":{"field":"c","type":"quantitative","scale":{"domain":[0,72],"range":[83,371],"nice":false},"axis":null},"y2":{"field":"d"}}},
{"data":{"name":"two"},"mark":{"type":"rule","stroke":"#999","strokeWidth":1},"encoding":{"x":{"field":"a","type":"quantitative","scale":{"domain":[0,1],"range":[173,320],"nice":false},"axis":null},"x2":{"field":"b"},"y":{"field":"c","type":"quantitative","scale":{"domain":[0,1],"range":[83,45],"nice":false},"axis":null},"y2":{"field":"d"}}},
{"data":{"values":[{"set":"sh-con"},{"set":"sh-METTL14"}]},"mark":{"type":"point","size":41616,"strokeWidth":4.5,"filled":false,"opacity":1},"encoding":{"x":{"field":"set","type":"nominal","sort":null,"scale":{"domain":["sh-con","sh-METTL14"],"range":[595,599],"padding":0},"axis":null},"y":{"field":"set","type":"nominal","sort":null,"scale":{"domain":["sh-con","sh-METTL14"],"range":[179,296.5],"padding":0},"axis":null},"stroke":{"field":"set","type":"nominal","scale":{"domain":["sh-con","sh-METTL14"],"range":["#3F5FAE","#F7941D"]},"legend":null}}},
{"layer":[
{"data":{"values":[{"dir":"Downregulated","n":136,"i":0,"ty":77},{"dir":"Upregulated","n":241,"i":1,"ty":248}]},"mark":{"type":"bar"},"encoding":{"x":{"field":"set","type":"nominal","scale":{"domain":["All"],"range":[965,1144],"paddingInner":0,"paddingOuter":0.404,"align":0.66},"axis":null,"datum":"All"},"y":{"field":"n","type":"quantitative","stack":"zero","scale":{"domain":[0,400],"range":[378,180],"nice":false},"axis":{"orient":"left","offset":-968,"values":[0,100,200,300,400],"title":["No. of Differentially","Expressed Genes"],"titleFont":"Liberation Serif","titleFontSize":30,"titleLineHeight":35,"titlePadding":11,"labelFont":"Liberation Serif","labelFontSize":29,"labelPadding":2,"tickSize":6,"tickWidth":2,"tickColor":"#000","domainWidth":2,"domainColor":"#000"}},"order":{"field":"i"},"color":{"field":"dir","type":"nominal","scale":{"domain":["Upregulated","Downregulated"],"range":["#8888C0","#BF8FC2"]},"legend":null}}}
]},
{"data":{"values":[{"dir":"Downregulated","n":136,"ty":77},{"dir":"Upregulated","n":241,"ty":248}]},"mark":{"type":"text","font":"Liberation Serif","fontSize":36,"dx":-1},"encoding":{"x":{"datum":0.5,"scale":{"domain":[0,1],"range":[1018,1117],"nice":false},"axis":null},"y":{"field":"ty","type":"quantitative","scale":{"domain":[0,400],"range":[378,180],"nice":false},"axis":null},"text":{"field":"n"}}},
{"data":{"values":[{"t":"line"}]},"mark":{"type":"rule","stroke":"#000","strokeWidth":3},"encoding":{"x":{"datum":965,"scale":{"domain":[965,1144],"range":[965,1144],"nice":false,"zero":false},"axis":null},"x2":{"datum":1144},"y":{"datum":0,"scale":{"domain":[0,400],"range":[378,180],"nice":false},"axis":null}}},
{"data":{"values":[{"dir":"Upregulated","y":56.75},{"dir":"Downregulated","y":70.75}]},"mark":{"type":"point","filled":true,"opacity":1,"size":4,"shape":"M-17.5,-8.5H17.5V8.5H-17.5Z"},"encoding":{"x":{"datum":499.25,"scale":{"domain":[0,960],"range":[0,1920],"nice":false},"axis":null},"y":{"field":"y","type":"quantitative","scale":{"domain":[0,910],"range":[0,1820],"nice":false},"axis":null},"color":{"field":"dir","type":"nominal","scale":{"domain":["Upregulated","Downregulated"],"range":["#8888C0","#BF8FC2"]},"legend":null}}},
{"layer":[
{"data":{"values":[{"v":-10},{"v":-5},{"v":0},{"v":5},{"v":10}]},"mark":{"type":"rule","stroke":"#EDEDED","strokeWidth":1},"encoding":{"x":{"field":"v","type":"quantitative","scale":{"domain":[-10.97,10.97],"range":[1394,1734],"nice":false},"axis":{"orient":"bottom","offset":-1398,"values":[-10,-5,0,5,10],"format":"d","title":"log₂(fold change)","titleFont":"Liberation Sans","titleFontSize":26,"titlePadding":4,"titleX":1573,"labelFont":"Liberation Sans","labelFontSize":8,"labelColor":"#555","tickSize":3,"tickColor":"#888","domain":false,"labelPadding":2}},"y":{"datum":-0.16,"scale":{"domain":[-0.16,3.33],"range":[422,30],"nice":false,"zero":false},"axis":{"orient":"left","offset":-1394,"values":[0,1,2,3],"format":"d","title":"−log₁₀(p value)","titleFont":"Liberation Sans","titleFontSize":25,"titlePadding":6,"titleY":239,"labelFont":"Liberation Sans","labelFontSize":8,"labelColor":"#555","tickSize":3,"tickColor":"#888","domain":false,"labelPadding":2}},"y2":{"datum":3.33}}},
{"data":{"values":[{"v":0},{"v":0.5},{"v":1},{"v":1.5},{"v":2},{"v":2.5},{"v":3}]},"mark":{"type":"rule","stroke":"#EDEDED","strokeWidth":2},"encoding":{"y":{"field":"v","type":"quantitative"},"x":{"datum":-10.97},"x2":{"datum":10.97}}},
{"data":{"name":"dens"},"mark":{"type":"area","orient":"horizontal","fill":"#6C90D2"},"encoding":{"y":{"field":"y","type":"quantitative"},"x":{"field":"a","type":"quantitative"},"x2":{"field":"b"},"detail":{"field":"s"}}},
{"data":{"name":"volcano"},"mark":{"type":"point","filled":true,"opacity":1,"size":9},"encoding":{"x":{"field":"x","type":"quantitative"},"y":{"field":"y","type":"quantitative"},"color":{"field":"t","type":"nominal","sort":null,"scale":{"domain":["Up","Down","Not DEG"],"range":["#EE5F5B","#22B14C","#6C90D2"]},"legend":{"orient":"none","legendX":1744,"legendY":132,"title":"type","titleFont":"Liberation Sans","titleFontSize":24,"titleFontWeight":"normal","titleColor":"#000","titlePadding":17,"labelFont":"Liberation Sans","labelFontSize":21,"labelColor":"#000","symbolType":"circle","symbolSize":14,"symbolOffset":8,"labelOffset":17,"rowPadding":18,"padding":0}}}},
{"data":{"values":[{"t":"frame"}]},"mark":{"type":"rect","fill":null,"stroke":"#888","strokeWidth":1.5},"encoding":{"x":{"datum":-10.97},"x2":{"datum":10.97},"y":{"datum":-0.16},"y2":{"datum":3.33}}}
]},
{"layer":[
{"data":{"values":[{"b":"5'UTR","a":0,"z":137,"m":69},{"b":"CDS","a":139,"z":276,"m":208},{"b":"3'UTR","a":278,"z":414,"m":345}]},"mark":{"type":"rect"},"encoding":{"x":{"field":"a","type":"quantitative","scale":{"domain":[-20,430],"range":[638,959],"nice":false,"zero":false},"axis":{"orient":"bottom","offset":-859,"values":[],"title":"Genomic Region (5' > 3')","titleFont":"Liberation Sans","titleFontSize":22,"titlePadding":21,"titleX":791,"ticks":false,"labels":false,"domainColor":"#555","domainWidth":2.5}},"x2":{"field":"z"},"y":{"datum":0.1,"scale":{"domain":[-11,113.3],"range":[961,588],"nice":false,"zero":false},"axis":{"orient":"left","offset":-638,"values":[0,30,60,90],"title":"Read count Per Million mapped reads","titleFont":"Liberation Sans","titleFontSize":19.7,"titlePadding":14,"titleY":780,"labelFont":"Liberation Sans","labelFontSize":9,"labelColor":"#333","tickSize":2,"tickColor":"#333","domainColor":"#444","domainWidth":1.5,"labelPadding":1}},"y2":{"datum":-2.3},"fill":{"field":"b","type":"nominal","scale":{"domain":["5'UTR","CDS","3'UTR"],"range":["#4A78BC","#94B853","#4BACC6"]},"legend":null}}},
{"data":{"values":[{"p":138},{"p":277}]},"mark":{"type":"rule","stroke":"#BBB","strokeWidth":1,"strokeDash":[2,2]},"encoding":{"x":{"field":"p","type":"quantitative"},"y":{"datum":-11},"y2":{"datum":111}}},
{"data":{"values":[{"b":"5'UTR","m":69,"v":-5.6},{"b":"CDS","m":208,"v":-5.6},{"b":"3'UTR","m":345,"v":-5.6}]},"mark":{"type":"text","font":"Liberation Sans","fontSize":9,"fill":"#222"},"encoding":{"x":{"field":"m","type":"quantitative"},"y":{"field":"v","type":"quantitative"},"text":{"field":"b"}}},
{"data":{"name":"reads"},"mark":{"type":"line","strokeWidth":2,"interpolate":"linear"},"encoding":{"x":{"field":"p","type":"quantitative"},"y":{"field":"v","type":"quantitative"},"color":{"field":"s","type":"nominal","sort":null,"scale":{"domain":["SW480 -con-Input","SW480 -con-IP"],"range":["#EE6A65","#1FB5AC"]},"legend":{"orient":"none","legendX":887,"legendY":616,"title":"Sample","titleFont":"Liberation Sans","titleFontSize":23,"titleFontWeight":"normal","titleColor":"#000","titlePadding":13,"labelFont":"Liberation Sans","labelFontSize":20.5,"labelColor":"#111","symbolType":"stroke","symbolSize":700,"symbolStrokeWidth":3.5,"labelOffset":12,"rowPadding":6,"padding":0,"labelLimit":400}}}}
]},
{"layer":[
{"data":{"values":[{"s":"shCON","n":10971},{"s":"sh-METTL14","n":10571}]},"mark":{"type":"bar"},"encoding":{"x":{"field":"s","type":"nominal","sort":null,"scale":{"domain":["shCON","sh-METTL14"],"range":[174,527],"paddingInner":0.318,"paddingOuter":0.162},"axis":{"orient":"bottom","offset":-891,"title":null,"labelAngle":0,"labelFont":"Liberation Serif","labelFontSize":35.5,"labelPadding":4,"tickSize":8,"tickWidth":2,"tickColor":"#000","domainWidth":3.5,"domainColor":"#000"}},"y":{"field":"n","type":"quantitative","scale":{"domain":[10000,12000],"range":[929,694],"nice":false,"zero":false},"axis":{"orient":"left","offset":-174,"values":[10000,10500,11000,11500,12000],"format":"d","title":"m6A peak number","titleFont":"Liberation Serif","titleFontSize":38,"titlePadding":28,"titleY":804,"labelFont":"Liberation Serif","labelFontSize":30,"labelPadding":1,"tickSize":6,"tickWidth":2,"tickColor":"#000","domainWidth":3,"domainColor":"#000"}},"y2":{"datum":10000},"color":{"field":"s","type":"nominal","scale":{"domain":["shCON","sh-METTL14"],"range":["#C0BCDF","#F7BFDA"]},"legend":null}}},
{"data":{"values":[{"s":"shCON","n":10971},{"s":"sh-METTL14","n":10571}]},"mark":{"type":"point","filled":true,"opacity":1,"size":81,"color":"#000"},"encoding":{"x":{"field":"s","type":"nominal","sort":null},"y":{"field":"n","type":"quantitative"},"shape":{"field":"s","type":"nominal","scale":{"domain":["shCON","sh-METTL14"],"range":["circle","square"]},"legend":null}}},
{"data":{"values":[{"s":"shCON","n":10971,"ty":10553},{"s":"sh-METTL14","n":10571,"ty":10281}]},"mark":{"type":"text","font":"Liberation Sans","fontSize":28.5,"dx":3},"encoding":{"x":{"field":"s","type":"nominal","sort":null},"y":{"field":"ty","type":"quantitative"},"text":{"field":"n","format":"d"}}}
]},
{"data":{"name":"pie1"},"mark":{"type":"arc","outerRadius":108.5},"encoding":{"theta":{"field":"p","type":"quantitative","stack":true,"scale":{"domain":[0,100],"range":[0,6.2832]}},"order":{"field":"i"},"x":{"datum":0,"scale":{"domain":[0,1],"range":[1295.5,1400],"nice":false},"axis":null},"y":{"datum":0,"scale":{"domain":[0,1],"range":[830,900],"nice":false},"axis":null},"color":{"field":"k","type":"nominal","sort":null,"scale":{"domain":["upstream (0.00%)","exonic (75.75%)","intronic (0.59%)","intergenic (0.02%)","downstream (0.00%)","UTR5 (1.11%)","UTR3 (22.53%)"],"range":["#D6127B","#1A5290","#E5A823","#8E2488","#F28A8A","#45ABD6","#FEF0DA"]},"legend":{"orient":"none","legendX":1347,"legendY":549,"title":null,"labelFont":"Liberation Sans","labelFontSize":22,"labelColor":"#000","symbolType":"square","symbolSize":240,"symbolOpacity":1,"symbolStrokeColor":"#111","symbolStrokeWidth":1.5,"labelOffset":15.5,"rowPadding":4.1,"padding":0,"labelLimit":400}}}},
{"data":{"name":"pie2"},"mark":{"type":"arc","outerRadius":108.5},"encoding":{"theta":{"field":"p","type":"quantitative","stack":true,"scale":{"domain":[0,100],"range":[0,6.2832]}},"order":{"field":"i"},"x":{"datum":0,"scale":{"domain":[0,1],"range":[1634,1700],"nice":false},"axis":null},"y":{"datum":0,"scale":{"domain":[0,1],"range":[838.5,900],"nice":false},"axis":null},"color":{"field":"k","type":"nominal","sort":null,"scale":{"domain":["upstream (0.01%)","exonic (78.09%)","intronic (0.51%)","intergenic (0.01%)","downstream (0.00%)","UTR5 (1.71%)","UTR3 (19.67%)"],"range":["#D6127B","#1A5290","#E5A823","#8E2488","#F28A8A","#45ABD6","#FEF0DA"]},"legend":{"orient":"none","legendX":1681,"legendY":549,"title":null,"labelFont":"Liberation Sans","labelFontSize":21.8,"labelColor":"#000","symbolType":"square","symbolSize":240,"symbolOpacity":1,"symbolStrokeColor":"#111","symbolStrokeWidth":1.5,"labelOffset":15.5,"rowPadding":4.3,"padding":0,"labelLimit":400}}}},
{"data":{"name":"logo"},"mark":{"type":"point","filled":true,"opacity":1,"size":4},"encoding":{"x":{"field":"pos","type":"nominal","scale":{"range":[92,491],"padding":0},"axis":{"orient":"bottom","offset":-234,"title":null,"labelAngle":270,"domain":false,"ticks":false,"labelFont":"Liberation Serif","labelFontSize":32,"labelPadding":3}},"y":{"field":"mid","type":"quantitative","scale":{"domain":[0,2],"range":[1586,1347],"nice":false},"axis":{"orient":"left","offset":-48,"values":[0,1,2],"format":"d","title":"bits","titleFont":"Liberation Serif","titleFontSize":26,"titlePadding":4,"domain":false,"ticks":false,"labelFont":"Liberation Serif","labelFontSize":27,"labelPadding":2}},"color":{"field":"base","type":"nominal","scale":{"domain":["A","C","G","U"],"range":["#21B14B","#3F53A5","#F8A01D","#DA2128"]},"legend":null},"shape":{"field":"glyph","type":"nominal","legend":null,"scale":{"domain":["A145","A77","A43","A47","A222","A19","A6","U37","U77","U15","U168","C37","C48","C19","C40","C227","G21","G37","G162","G185","E8","B4","B3"],"range":["M-33,72L-8,-72H8L33,72H16L9,32H-9L-16,72ZM7,0L0,-46L-7,0Z","M-33,38L-8,-38H8L33,38H16L9,17H-9L-16,38ZM7,0L0,-25L-7,0Z","M-33,21L-8,-21H8L33,21H16L9,9H-9L-16,21ZM7,0L0,-14L-7,0Z","M-33,23L-8,-23H8L33,23H16L9,10H-9L-16,23ZM7,0L0,-15L-7,0Z","M-33,111L-8,-111H8L33,111H16L9,49H-9L-16,111ZM7,0L0,-71L-7,0Z","M-33,9L-8,-9H8L33,9H16L9,4H-9L-16,9ZM7,0L0,-6L-7,0Z","M-33,3L0,-3L33,3Z","M-33,-18H-14V6Q-14,12,0,12Q14,12,14,6V-18H33V4Q33,18,0,18Q-33,18,-33,4Z","M-33,-38H-14V12Q-14,25,0,25Q14,25,14,12V-38H33V8Q33,38,0,38Q-33,38,-33,8Z","M-33,-7H-14V2Q-14,5,0,5Q14,5,14,2V-7H33V2Q33,7,0,7Q-33,7,-33,2Z","M-33,-84H-14V25Q-14,55,0,55Q14,55,14,25V-84H33V17Q33,84,0,84Q-33,84,-33,17Z","M31,-7Q22,-18,0,-18Q-33,-18,-33,0Q-33,18,0,18Q22,18,31,7L14,5Q10,12,0,12Q-14,12,-14,0Q-14,-12,0,-12Q10,-12,14,-5Z","M31,-10Q22,-24,0,-24Q-33,-24,-33,0Q-33,24,0,24Q22,24,31,10L14,7Q10,16,0,16Q-14,16,-14,0Q-14,-16,0,-16Q10,-16,14,-7Z","M31,-4Q22,-9,0,-9Q-33,-9,-33,0Q-33,9,0,9Q22,9,31,4L14,3Q10,6,0,6Q-14,6,-14,0Q-14,-6,0,-6Q10,-6,14,-3Z","M31,-8Q22,-20,0,-20Q-33,-20,-33,0Q-33,20,0,20Q22,20,31,8L14,6Q10,13,0,13Q-14,13,-14,0Q-14,-13,0,-13Q10,-13,14,-6Z","M31,-45Q22,-113,0,-113Q-33,-113,-33,0Q-33,113,0,113Q22,113,31,45L14,32Q10,75,0,75Q-14,75,-14,0Q-14,-75,0,-75Q10,-75,14,-32Z","M31,-4Q22,-10,0,-10Q-33,-10,-33,0Q-33,10,0,10Q24,10,33,5V-1H2V2H14V3Q10,7,0,7Q-14,7,-14,0Q-14,-7,0,-7Q10,-7,14,-3Z","M31,-7Q22,-18,0,-18Q-33,-18,-33,0Q-33,18,0,18Q24,18,33,9V-1H2V4H14V6Q10,12,0,12Q-14,12,-14,0Q-14,-12,0,-12Q10,-12,14,-5Z","M31,-32Q22,-81,0,-81Q-33,-81,-33,0Q-33,81,0,81Q24,81,33,40V-4H2V16H14V24Q10,53,0,53Q-14,53,-14,0Q-14,-53,0,-53Q10,-53,14,-23Z","M31,-37Q22,-92,0,-92Q-33,-92,-33,0Q-33,92,0,92Q24,92,33,46V-5H2V18H14V28Q10,61,0,61Q-14,61,-14,0Q-14,-61,0,-61Q10,-61,14,-26Z","M-33,0Q-33,-4,0,-4Q33,-4,33,0Q33,4,0,4Q-33,4,-33,0Z","M-33,-2H33V2H-33Z","M-33,-1.5H33V1.5H-33Z"]}}}},
{"layer":[
{"data":{"values":[{"set":"down_ peak"}]},"mark":{"type":"point","filled":true,"opacity":1,"size":4,"shape":"M-143,0A143,160,0,1,1,143,0A143,160,0,1,1,-143,0Z","fill":"#B9E0F2","stroke":"#7CC0E3","strokeWidth":3},"encoding":{"x":{"datum":435,"scale":{"domain":[0,960],"range":[0,1920],"nice":false},"axis":null},"y":{"datum":680.5,"scale":{"domain":[0,910],"range":[0,1820],"nice":false},"axis":null}}},
{"data":{"values":[{"set":"diff_ gene"}]},"mark":{"type":"point","filled":true,"opacity":0.72,"size":4,"shape":"M-138,0A138,156,0,1,1,138,0A138,156,0,1,1,-138,0Z","fill":"#F5DCEC","stroke":"#F0D2E6","strokeWidth":2},"encoding":{"x":{"datum":437},"y":{"datum":771.5}}},
{"data":{"values":[{"set":"down_ peak"}]},"mark":{"type":"point","filled":false,"opacity":0.45,"size":4,"shape":"M-143,0A143,160,0,1,1,143,0A143,160,0,1,1,-143,0Z","stroke":"#7CC0E3","strokeWidth":3},"encoding":{"x":{"datum":435},"y":{"datum":680.5}}}
]},
{"data":{"name":"two"},"mark":{"type":"rule","stroke":"#888","strokeWidth":1.5},"encoding":{"x":{"field":"a","type":"quantitative","scale":{"domain":[0,1],"range":[1282,1384],"nice":false},"axis":null},"x2":{"field":"b"},"y":{"field":"c","type":"quantitative","scale":{"domain":[0,1],"range":[1153,1097.5],"nice":false},"axis":null},"y2":{"field":"d"}}},
{"data":{"name":"treeD"},"mark":{"type":"rule","stroke":"#888","strokeWidth":1.5},"encoding":{"x":{"field":"a","type":"quantitative","scale":{"domain":[0,148],"range":[1232,1158],"nice":false},"axis":null},"x2":{"field":"b"},"y":{"field":"c","type":"quantitative","scale":{"domain":[0,23],"range":[1164.6,1703.5],"nice":false},"axis":null},"y2":{"field":"d"}}},
{"data":{"name":"dots"},"mark":{"type":"point","filled":true,"opacity":1},"encoding":{"x":{"field":"s","type":"nominal","sort":null,"scale":{"domain":["sh-CON","sh-METTL14"],"range":[1282,1384],"padding":0},"axis":null},"y":{"field":"g","type":"nominal","scale":{"domain":["PIGY","ZNF765-ZNF761","INO80B-WBP1","TGIF2-RAB5IF","HSP90AA1","ZNF281","FBXO31","TRAPPC6B","FAM13B","OTUD6B","RPL36A-HNRNPH2","ZNF561","ANXA1","ARRDC4","CEBPG","PHLDA1","MTHFD2","ASNS","PSAT1","CCDC68","IFRD1","SSR1","CANT1","LMNB1"],"range":[1164.6,1703.5],"padding":0},"axis":{"orient":"right","offset":-490,"title":null,"domain":false,"ticks":false,"labelFont":"Liberation Sans","labelFontSize":19,"labelColor":"#222","labelPadding":12}},"color":{"field":"v","type":"quantitative","scale":{"domain":[2,5,8,9,10,15,20],"range":["#5FB52E","#A6D18A","#EEF6EA","#FFFAFA","#FBDCDC","#F15D5D","#E02020"]},"legend":null},"size":{"field":"v","type":"quantitative","scale":{"domain":[2,5,10,15,20],"range":[20,125,250,370,560]},"legend":null}}},
{"layer":[
{"data":{"values":[{"v":5},{"v":10},{"v":15},{"v":20}]},"mark":{"type":"point","filled":true,"opacity":1},"encoding":{"x":{"datum":0,"scale":{"domain":[0,1],"range":[1680,1696],"nice":false},"axis":null},"y":{"field":"v","type":"quantitative","scale":{"domain":[5,20],"range":[1206,1296],"zero":false,"nice":false},"axis":null},"color":{"field":"v","type":"quantitative","scale":{"domain":[2,5,8,9,10,15,20],"range":["#5FB52E","#A6D18A","#EEF6EA","#FFFAFA","#FBDCDC","#F15D5D","#E02020"]},"legend":null},"size":{"field":"v","type":"quantitative","scale":{"domain":[2,5,10,15,20],"range":[20,125,250,370,560]},"legend":null}}},
{"data":{"values":[{"v":5},{"v":10},{"v":15},{"v":20}]},"mark":{"type":"text","align":"left","font":"Liberation Sans","fontSize":16,"fill":"#222"},"encoding":{"x":{"datum":1},"y":{"field":"v","type":"quantitative"},"text":{"field":"v","format":".2f"}}}
]},
{"layer":[
{"data":{"name":"notes"},"transform":[{"filter":"datum.g=='L'"}],"mark":{"type":"text","font":"Liberation Serif","fontWeight":"bold","fontSize":56},"encoding":{"x":{"field":"x","type":"quantitative","scale":{"domain":[0,960],"range":[0,1920],"nice":false},"axis":null},"y":{"field":"y","type":"quantitative","scale":{"domain":[0,910],"range":[0,1820],"nice":false},"axis":null},"text":{"field":"t"}}},
{"data":{"name":"notes"},"transform":[{"filter":"datum.g=='S'"}],"mark":{"type":"text","font":"Liberation Serif","fontSize":30},"encoding":{"x":{"field":"x","type":"quantitative"},"y":{"field":"y","type":"quantitative"},"text":{"field":"t"}}},
{"data":{"name":"notes"},"transform":[{"filter":"datum.g=='R'"}],"mark":{"type":"text","font":"Liberation Serif","fontSize":29,"angle":-30},"encoding":{"x":{"field":"x","type":"quantitative"},"y":{"field":"y","type":"quantitative"},"text":{"field":"t"}}},
{"data":{"name":"notes"},"transform":[{"filter":"datum.g=='T'"}],"mark":{"type":"text","font":"Liberation Sans","fontSize":23},"encoding":{"x":{"field":"x","type":"quantitative"},"y":{"field":"y","type":"quantitative"},"text":{"field":"t"}}},
{"data":{"name":"notes"},"transform":[{"filter":"datum.g=='K'"}],"mark":{"type":"text","font":"Liberation Serif","fontSize":39,"align":"left"},"encoding":{"x":{"field":"x","type":"quantitative"},"y":{"field":"y","type":"quantitative"},"text":{"field":"t"}}}
]}
]}
